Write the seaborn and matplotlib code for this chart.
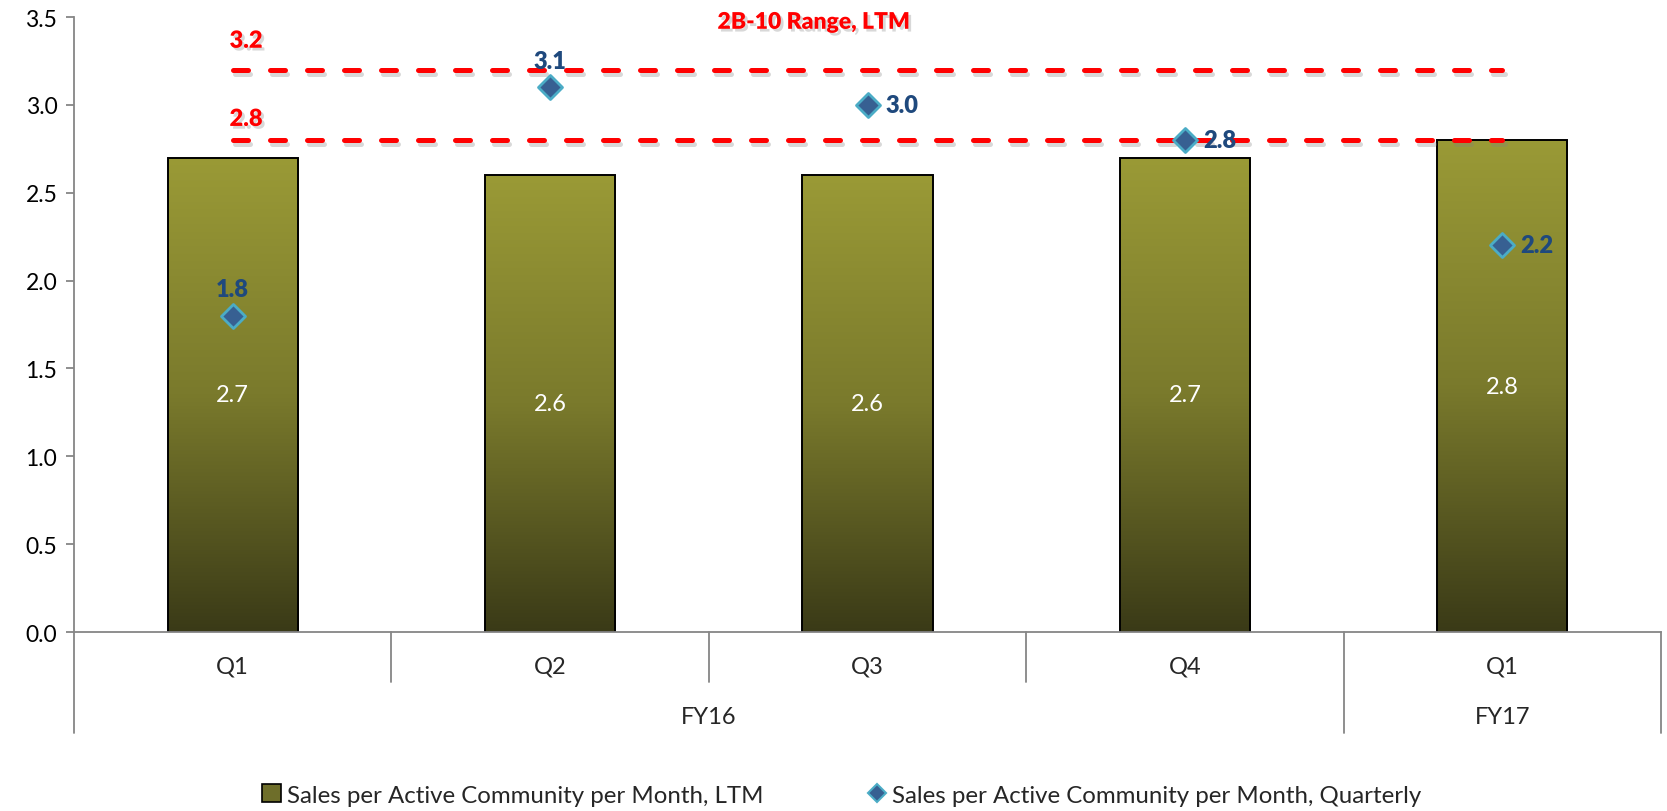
import numpy as np
import pandas as pd
import matplotlib
matplotlib.use("Agg")
import matplotlib.pyplot as plt
import matplotlib.patheffects as pe
from matplotlib.colors import LinearSegmentedColormap
from matplotlib.patches import Patch
from matplotlib.lines import Line2D
import seaborn as sns

# ---- data ----
quarters = ["Q1", "Q2", "Q3", "Q4", "Q1"]
fiscal_years = ["FY16", "FY16", "FY16", "FY16", "FY17"]
ltm_sales = [2.7, 2.6, 2.6, 2.7, 2.8]
quarterly_sales = [1.8, 3.1, 3.0, 2.8, 2.2]
range_low = 2.8
range_high = 3.2
ltm_label = "Sales per Active Community per Month, LTM"
qtr_label = "Sales per Active Community per Month, Quarterly"
range_title = "2B-10 Range, LTM"

keys = [f"{fy} {q}" for fy, q in zip(fiscal_years, quarters)]
df = pd.DataFrame({"period": keys, "ltm": ltm_sales, "quarterly": quarterly_sales})

sns.set_theme(style="white")
plt.rcParams["font.family"] = ["Lato", "DejaVu Sans"]

fig = plt.figure(figsize=(16.67, 8.12), dpi=100)
ax = fig.add_axes([0.0444, 0.2204, 0.952, 0.7574])

# ---- LTM bars with vertical olive gradient ----
sns.barplot(data=df, x="period", y="ltm", ax=ax, width=0.41,
            color="#6e6e2a", edgecolor="black", linewidth=1.4,
            saturation=1, zorder=2)
olive = LinearSegmentedColormap.from_list("olive", ["#3a3a17", "#7a7a2c", "#9a9a36"])
grad = np.linspace(0, 1, 256).reshape(-1, 1)
for patch in list(ax.patches):
    x0, y0 = patch.get_x(), patch.get_y()
    w, h = patch.get_width(), patch.get_height()
    im = ax.imshow(grad, cmap=olive, origin="lower", aspect="auto",
                   extent=(x0, x0 + w, y0, y0 + h), zorder=1.9)
    im.set_clip_path(patch)
    patch.set_facecolor("none")
    ax.text(x0 + w / 2, h / 2, f"{h:.1f}", ha="center", va="center",
            color="white", fontsize=17, zorder=3)

# ---- range lines ----
shadow = [pe.SimpleLineShadow(offset=(2, -3), shadow_color="gray", alpha=0.3),
          pe.Normal()]
for level in (range_high, range_low):
    ax.plot([0, len(keys) - 1], [level, level], color="#ff0000", lw=3.6,
            linestyle=(0, (3.0, 4.4)), dash_capstyle="round", zorder=4,
            path_effects=shadow)
txt_shadow = [pe.withSimplePatchShadow(offset=(2, -2), shadow_rgbFace="gray", alpha=0.3)]
ax.text(-0.01, range_high + 0.165, f"{range_high:.1f}", color="#ff0000", fontsize=17,
        fontweight="heavy", ha="left", va="center", path_effects=txt_shadow, zorder=5)
ax.text(-0.01, range_low + 0.12, f"{range_low:.1f}", color="#ff0000", fontsize=17,
        fontweight="heavy", ha="left", va="center", path_effects=txt_shadow, zorder=5)
ax.text(1.83, 3.47, range_title, color="#ff0000", fontsize=16.5, fontweight="heavy",
        ha="center", va="center", path_effects=txt_shadow, zorder=5)

# ---- quarterly diamonds ----
sns.scatterplot(data=df, x="period", y="quarterly", ax=ax, marker="D", s=150,
                color="#376092", edgecolor="#4bacc6", linewidth=2, zorder=6,
                legend=False)
label_pos = ["above", "above", "right", "right", "right"]
for i, (v, pos) in enumerate(zip(quarterly_sales, label_pos)):
    if pos == "above":
        off, ha, va = (0, 11), "center", "bottom"
    else:
        off, ha, va = (13, 0), "left", "center"
    ax.annotate(f"{v:.1f}", (i, v), xytext=off, textcoords="offset points",
                ha=ha, va=va, color="#1f497d", fontsize=17, fontweight="heavy",
                zorder=7)

# ---- axes styling ----
ax.set_xlim(-0.5, len(keys) - 0.5)
ax.set_ylim(0, 3.5)
ax.set_yticks(np.arange(0, 3.51, 0.5))
ax.set_yticklabels([f"{t:.1f}" for t in np.arange(0, 3.51, 0.5)], fontsize=16.5)
ax.set_xticks([])
ax.set_xlabel("")
ax.set_ylabel("")
for s in ("top", "right"):
    ax.spines[s].set_visible(False)
for s in ("left", "bottom"):
    ax.spines[s].set_color("#868686")
    ax.spines[s].set_linewidth(1.3)
ax.tick_params(axis="y", which="both", left=True, length=6, width=1.3,
               color="#868686", pad=6, labelcolor="black")

# ---- two-level category axis ----
trans = ax.get_xaxis_transform()
line_kw = dict(color="#868686", lw=1.3, transform=trans, clip_on=False)
q_depth, fy_depth = -0.081, -0.164
for i in range(1, len(keys)):
    boundary = i - 0.5
    fy_break = fiscal_years[i] != fiscal_years[i - 1]
    ax.plot([boundary, boundary], [0, fy_depth if fy_break else q_depth], **line_kw)
ax.plot([-0.5, -0.5], [0, fy_depth], **line_kw)
ax.plot([len(keys) - 0.5, len(keys) - 0.5], [0, fy_depth], **line_kw)
for i, q in enumerate(quarters):
    ax.text(i, -0.055, q, transform=trans, ha="center", va="center", fontsize=17)
for fy in dict.fromkeys(fiscal_years):
    idx = [i for i, f in enumerate(fiscal_years) if f == fy]
    ax.text(np.mean(idx), -0.138, fy, transform=trans, ha="center", va="center",
            fontsize=17)

# ---- legend ----
handles = [Patch(facecolor="#6e6e2a", edgecolor="black", linewidth=1.2),
           Line2D([], [], marker="D", linestyle="none", markersize=9,
                  markerfacecolor="#376092", markeredgecolor="#4bacc6",
                  markeredgewidth=1.5)]
fig.legend(handles, [ltm_label, qtr_label], loc="center", bbox_to_anchor=(0.505, 0.02),
           ncol=2, frameon=False, fontsize=17.3, handlelength=0.8, handleheight=0.8,
           handletextpad=0.25, columnspacing=4.3)

fig.savefig("out.png", dpi=100)
